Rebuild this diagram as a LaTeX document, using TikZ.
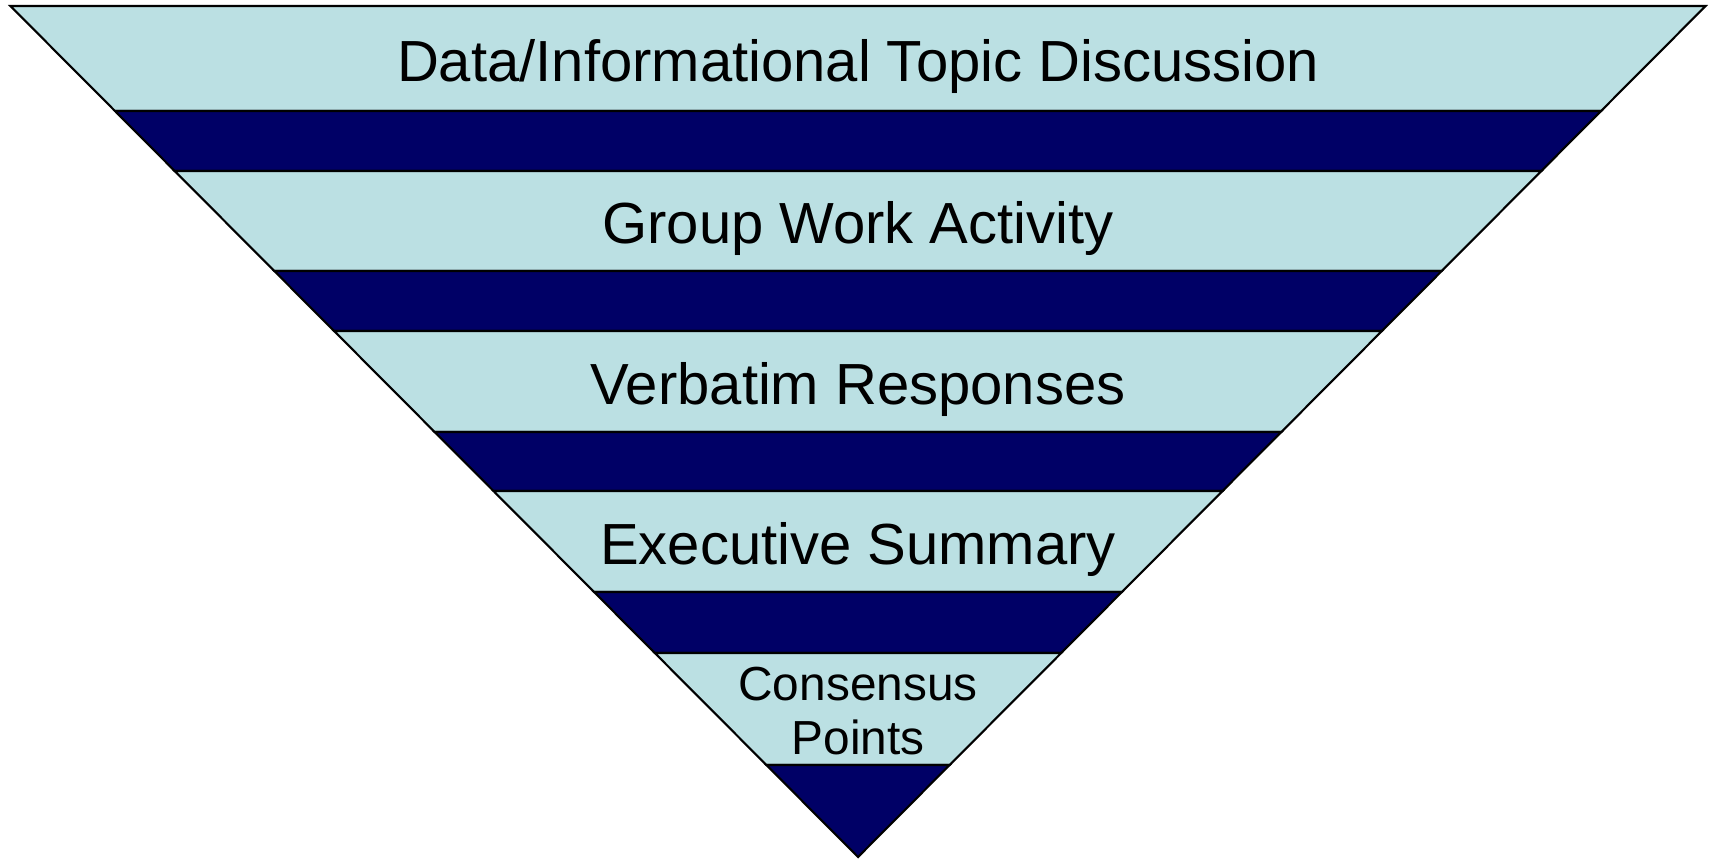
\documentclass[tikz,border=0pt]{standalone}
\usepackage{fontspec}
\setmainfont{Liberation Sans}
\usepackage{tikz}

\definecolor{bandlight}{RGB}{187,224,227}
\definecolor{banddark}{RGB}{0,0,102}

\begin{document}
\begin{tikzpicture}[
    lightband/.style={fill=bandlight, draw=black, line width=0.6pt, line join=miter},
    darkband/.style={fill=banddark, draw=black, line width=0.6pt, line join=miter},
    bandlabel/.style={anchor=base, inner sep=0pt, font=\fontsize{16.5}{19}\selectfont},
    smalllabel/.style={align=center, inner sep=0pt, font=\fontsize{13.6}{15.6}\selectfont}]
    \useasboundingbox (0,0) rectangle (17.10,8.59);

    % light and dark bands, top to bottom
    \draw[lightband] (0.104,8.53) -- (17.056,8.53) -- (16.010,7.48) -- (1.150,7.48) -- cycle;
    \draw[darkband] (1.150,7.48) -- (16.010,7.48) -- (15.413,6.88) -- (1.747,6.88) -- cycle;
    \draw[lightband] (1.747,6.88) -- (15.413,6.88) -- (14.417,5.88) -- (2.743,5.88) -- cycle;
    \draw[darkband] (2.743,5.88) -- (14.417,5.88) -- (13.819,5.28) -- (3.341,5.28) -- cycle;
    \draw[lightband] (3.341,5.28) -- (13.819,5.28) -- (12.813,4.27) -- (4.347,4.27) -- cycle;
    \draw[darkband] (4.347,4.27) -- (12.813,4.27) -- (12.225,3.68) -- (4.935,3.68) -- cycle;
    \draw[lightband] (4.935,3.68) -- (12.225,3.68) -- (11.219,2.67) -- (5.941,2.67) -- cycle;
    \draw[darkband] (5.941,2.67) -- (11.219,2.67) -- (10.612,2.06) -- (6.548,2.06) -- cycle;
    \draw[lightband] (6.548,2.06) -- (10.612,2.06) -- (9.496,0.94) -- (7.664,0.94) -- cycle;
    \draw[darkband] (7.664,0.94) -- (9.496,0.94) -- (8.58,0.02) -- cycle;

    % labels
    \node[bandlabel] (topic) at (8.58,7.78) {Data/Informational Topic Discussion};
    \node[bandlabel] (group) at (8.58,6.155) {Group Work Activity};
    \node[bandlabel] (verbatim) at (8.58,4.55) {Verbatim Responses};
    \node[bandlabel] (summary) at (8.58,2.95) {Executive Summary};
    \node[smalllabel] (consensus) at (8.58,1.48) {Consensus\\Points};

\end{tikzpicture}
\end{document}
